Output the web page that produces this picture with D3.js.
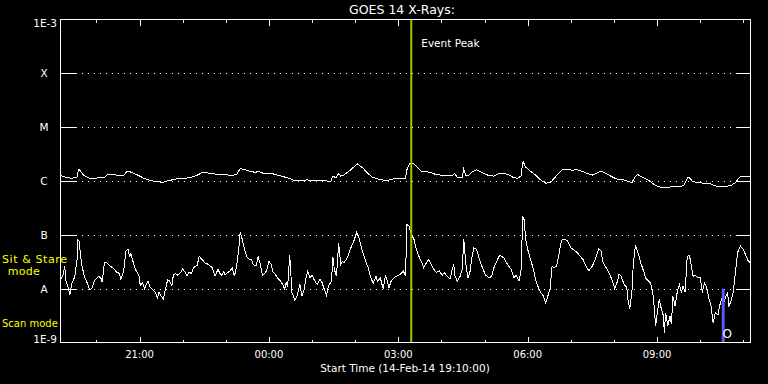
<!DOCTYPE html>
<html>
<head>
<meta charset="utf-8">
<script src="https://cdn.jsdelivr.net/npm/d3@7"></script>
<style>
  html, body { margin: 0; padding: 0; background: #000; }
  svg { display: block; }
  text { font-family: "DejaVu Sans", sans-serif; fill: #fff; }
</style>
</head>
<body>
<div id="chart"></div>
<script>
// GOES 14 x-ray flux, two channels; time = minutes after start, value = log10(W/m^2)
const startTime = new Date(2014, 1, 14, 19, 10, 0);
const spanMinutes = 960;
const eventPeakMin = 488;
const scanStartMin = 920, scanEndMin = 924;

const yTickValues = [1e-9, 1e-8, 1e-7, 1e-6, 1e-5, 1e-4, 1e-3];
const yTickLabels = ["1E-9", "A", "B", "C", "M", "X", "1E-3"];

const longChannel = [
  [0,-5.90],[7,-5.93],[16,-5.95],[23,-5.93],[25,-5.78],[27,-5.80],[32,-5.89],[39,-5.94],[44,-5.96],[53,-5.94],
  [62,-5.93],[65,-5.88],[71,-5.88],[78,-5.89],[83,-5.90],[88,-5.90],[92,-5.83],[97,-5.83],[102,-5.86],[109,-5.90],
  [116,-5.95],[122,-5.98],[129,-6.00],[136,-6.01],[142,-6.03],[148,-6.00],[155,-5.98],[162,-5.96],[171,-5.95],[180,-5.94],
  [187,-5.91],[192,-5.88],[197,-5.84],[204,-5.85],[211,-5.86],[218,-5.88],[225,-5.88],[234,-5.89],[241,-5.89],[245,-5.88],
  [250,-5.77],[257,-5.79],[264,-5.82],[271,-5.84],[276,-5.82],[280,-5.85],[287,-5.86],[294,-5.86],[301,-5.89],[308,-5.91],
  [315,-5.94],[320,-5.96],[325,-5.99],[334,-5.99],[343,-5.98],[353,-5.99],[362,-5.99],[371,-6.00],[376,-6.01],[379,-5.91],
  [383,-5.94],[387,-5.86],[390,-5.91],[394,-5.89],[404,-5.79],[413,-5.68],[420,-5.75],[427,-5.85],[434,-5.93],[441,-5.96],
  [448,-5.98],[455,-5.99],[464,-5.96],[473,-5.96],[480,-5.95],[482,-5.79],[486,-5.67],[491,-5.67],[496,-5.74],[503,-5.83],
  [510,-5.83],[517,-5.85],[522,-5.88],[529,-5.89],[538,-5.89],[546,-5.89],[548,-5.86],[552,-5.93],[559,-5.93],[561,-5.78],
  [564,-5.89],[568,-5.89],[573,-5.83],[579,-5.79],[584,-5.83],[589,-5.86],[596,-5.90],[603,-5.91],[610,-5.86],[617,-5.86],
  [624,-5.89],[631,-5.94],[636,-5.95],[641,-5.90],[643,-5.66],[644,-5.65],[647,-5.74],[654,-5.82],[661,-5.89],[668,-5.98],
  [675,-6.04],[682,-6.03],[686,-5.96],[691,-5.89],[698,-5.79],[705,-5.78],[712,-5.80],[719,-5.79],[726,-5.82],[733,-5.86],
  [740,-5.89],[747,-5.85],[751,-5.82],[756,-5.84],[763,-5.89],[770,-5.94],[777,-5.98],[784,-5.98],[791,-6.01],[795,-6.03],
  [800,-5.91],[803,-5.88],[807,-5.91],[814,-5.96],[821,-6.01],[826,-6.07],[833,-6.11],[839,-6.12],[849,-6.11],[858,-6.10],
  [867,-6.09],[872,-5.95],[874,-5.93],[879,-6.00],[886,-6.03],[895,-6.04],[902,-6.04],[907,-6.07],[914,-6.10],[923,-6.10],
  [932,-6.09],[939,-6.03],[946,-5.91],[953,-5.91],[960,-5.91]
];

const shortChannel = [
  [0,-7.83],[3,-7.77],[6,-7.59],[7,-7.83],[10,-7.95],[13,-8.11],[16,-7.89],[18,-7.84],[20,-7.77],[23,-7.46],
  [24,-7.09],[26,-7.12],[28,-7.40],[30,-7.58],[33,-7.77],[37,-7.89],[41,-8.03],[44,-7.98],[47,-7.86],[51,-7.80],
  [53,-7.77],[57,-7.82],[58,-7.88],[61,-7.52],[64,-7.52],[69,-7.58],[74,-7.63],[78,-7.69],[82,-7.72],[84,-7.82],
  [88,-7.67],[91,-7.30],[94,-7.27],[96,-7.40],[98,-7.35],[102,-7.55],[105,-7.66],[109,-7.75],[111,-7.94],[114,-7.89],
  [117,-8.00],[119,-7.93],[122,-7.86],[125,-7.98],[128,-8.01],[132,-8.07],[135,-8.17],[137,-8.07],[140,-8.14],[143,-8.19],
  [146,-8.01],[149,-7.84],[152,-7.86],[155,-7.94],[157,-7.75],[160,-7.72],[163,-7.75],[167,-7.70],[170,-7.63],[173,-7.69],
  [176,-7.77],[179,-7.69],[182,-7.72],[185,-7.61],[187,-7.59],[190,-7.57],[193,-7.40],[197,-7.46],[201,-7.52],[206,-7.55],
  [211,-7.61],[215,-7.77],[219,-7.64],[222,-7.72],[224,-7.75],[227,-7.69],[229,-7.74],[233,-7.70],[236,-7.67],[239,-7.61],
  [242,-7.77],[245,-7.58],[248,-7.27],[250,-6.95],[253,-7.09],[256,-7.27],[259,-7.40],[262,-7.45],[266,-7.46],[268,-7.55],
  [272,-7.58],[275,-7.41],[278,-7.55],[281,-7.75],[284,-7.72],[287,-7.66],[290,-7.49],[293,-7.55],[296,-7.70],[299,-7.74],
  [302,-7.80],[306,-7.86],[309,-7.92],[312,-8.01],[314,-7.89],[316,-7.96],[319,-7.38],[320,-7.61],[322,-8.07],[326,-8.21],
  [329,-8.14],[333,-7.92],[336,-8.14],[339,-8.01],[342,-7.77],[344,-7.67],[347,-7.80],[350,-7.75],[353,-7.84],[357,-7.92],
  [361,-7.83],[364,-7.89],[367,-8.01],[370,-8.12],[373,-7.95],[377,-7.86],[379,-7.41],[381,-7.64],[384,-7.77],[387,-7.16],
  [390,-7.55],[392,-7.49],[394,-7.52],[399,-7.43],[403,-7.27],[408,-7.12],[412,-6.96],[415,-7.04],[418,-7.21],[423,-7.43],
  [428,-7.61],[431,-7.77],[435,-7.90],[439,-7.77],[441,-7.86],[445,-7.80],[449,-8.01],[452,-7.77],[454,-7.82],[457,-7.98],
  [460,-7.86],[464,-7.80],[467,-7.77],[471,-7.75],[474,-7.72],[477,-7.67],[480,-7.77],[482,-6.81],[485,-6.84],[488,-6.99],
  [492,-7.09],[495,-7.27],[499,-7.41],[503,-7.52],[505,-7.61],[509,-7.52],[512,-7.46],[516,-7.55],[519,-7.63],[523,-7.70],
  [527,-7.67],[531,-7.75],[534,-7.70],[538,-7.77],[542,-7.82],[545,-7.64],[547,-7.55],[549,-7.77],[552,-7.86],[556,-7.77],
  [559,-7.64],[561,-7.07],[564,-7.55],[567,-7.80],[570,-7.67],[572,-7.45],[575,-7.24],[579,-7.27],[583,-7.46],[587,-7.61],
  [591,-7.74],[596,-7.80],[600,-7.77],[603,-7.61],[608,-7.46],[611,-7.38],[617,-7.43],[622,-7.55],[627,-7.64],[631,-7.80],
  [634,-7.75],[638,-7.86],[641,-7.64],[643,-6.66],[645,-6.72],[647,-7.06],[650,-7.27],[654,-7.46],[658,-7.64],[661,-7.83],
  [664,-7.95],[668,-8.07],[672,-8.14],[675,-8.27],[678,-8.14],[681,-8.01],[684,-7.58],[686,-7.61],[690,-7.59],[693,-7.40],
  [697,-7.10],[700,-7.09],[705,-7.10],[710,-7.24],[714,-7.28],[719,-7.33],[723,-7.40],[727,-7.46],[730,-7.55],[735,-7.67],
  [740,-7.58],[744,-7.46],[749,-7.26],[752,-7.30],[755,-7.52],[760,-7.63],[763,-7.70],[768,-7.86],[771,-8.00],[775,-7.86],
  [777,-7.73],[780,-7.77],[784,-7.92],[788,-7.98],[789,-8.17],[792,-8.37],[795,-8.07],[797,-7.52],[800,-7.20],[802,-7.27],
  [805,-7.40],[808,-7.55],[812,-7.70],[814,-7.80],[818,-7.86],[821,-7.89],[825,-8.17],[828,-8.69],[830,-8.48],[833,-8.20],
  [836,-8.38],[839,-8.51],[840,-8.82],[842,-8.45],[845,-8.69],[848,-8.51],[850,-8.66],[852,-8.14],[855,-8.32],[858,-8.07],
  [861,-7.92],[864,-8.07],[866,-7.95],[869,-8.07],[872,-7.40],[875,-7.38],[877,-7.52],[880,-7.77],[883,-7.75],[887,-7.80],
  [890,-7.80],[893,-8.07],[896,-7.89],[899,-7.98],[902,-8.17],[905,-8.32],[908,-8.63],[911,-8.45],[915,-8.48],[917,-8.32],
  [921,-8.14],[923,-8.26],[925,-8.17],[928,-8.07],[930,-8.32],[933,-8.23],[936,-8.07],[939,-7.70],[942,-7.33],[946,-7.21],
  [950,-7.27],[954,-7.40],[957,-7.49],[960,-7.52]
];

const W = 768, H = 384;
const pLeft = 60.5, pRight = 750.5, pTop = 19.5, pBottom = 342.5;

const svg = d3.select("#chart").append("svg")
    .attr("width", W)
    .attr("height", H)
    .style("background", "#000");

const toDate = m => new Date(startTime.getTime() + m * 60000);

const x = d3.scaleTime()
    .domain([startTime, toDate(spanMinutes)])
    .range([pLeft, pRight]);

const y = d3.scaleLog()
    .domain([1e-9, 1e-3])
    .range([pBottom, pTop]);

// -----------------------------
// grid + y ticks
// -----------------------------
const inner = yTickValues.slice(1, -1);
const snap = v => Math.round(v) + 0.5;

svg.selectAll(".grid")
    .data(inner)
    .enter()
    .append("line")
    .attr("x1", pLeft + 15.5).attr("x2", pRight - 14)
    .attr("y1", d => snap(y(d))).attr("y2", d => snap(y(d)))
    .attr("stroke", "#fff")
    .attr("stroke-dasharray", "1 5")
    .attr("shape-rendering", "crispEdges");

svg.selectAll(".ytickL")
    .data(inner)
    .enter()
    .append("line")
    .attr("x1", pLeft).attr("x2", pLeft + 15)
    .attr("y1", d => snap(y(d))).attr("y2", d => snap(y(d)))
    .attr("stroke", "#fff")
    .attr("shape-rendering", "crispEdges");

svg.selectAll(".ytickR")
    .data(inner)
    .enter()
    .append("line")
    .attr("x1", pRight - 14).attr("x2", pRight)
    .attr("y1", d => snap(y(d))).attr("y2", d => snap(y(d)))
    .attr("stroke", "#fff")
    .attr("shape-rendering", "crispEdges");

svg.selectAll(".ylab")
    .data(yTickValues)
    .enter()
    .append("text")
    .attr("font-size", 10.5)
    .attr("text-anchor", (d, i) => (i === 0 || i === yTickValues.length - 1) ? "end" : "middle")
    .attr("x", (d, i) => (i === 0 || i === yTickValues.length - 1) ? 57 : 44)
    .attr("y", (d, i) => {
        if (i === 0) return y(d);
        if (i === yTickValues.length - 1) return y(d) + 7.5;
        return y(d) + 4;
    })
    .text((d, i) => yTickLabels[i]);

// -----------------------------
// x ticks (hourly, major every 3h)
// -----------------------------
const hours = x.ticks(d3.timeHour.every(1));
const isMajor = d => d.getHours() % 3 === 0;
const fmt = d3.timeFormat("%H:%M");

svg.selectAll(".xtickT")
    .data(hours)
    .enter()
    .append("line")
    .attr("x1", d => snap(x(d))).attr("x2", d => snap(x(d)))
    .attr("y1", pTop).attr("y2", d => pTop + (isMajor(d) ? 6 : 3))
    .attr("stroke", "#fff")
    .attr("shape-rendering", "crispEdges");

svg.selectAll(".xtickB")
    .data(hours)
    .enter()
    .append("line")
    .attr("x1", d => snap(x(d))).attr("x2", d => snap(x(d)))
    .attr("y1", pBottom).attr("y2", d => pBottom - (isMajor(d) ? 6 : 3))
    .attr("stroke", "#fff")
    .attr("shape-rendering", "crispEdges");

svg.selectAll(".xlab")
    .data(hours.filter(isMajor))
    .enter()
    .append("text")
    .attr("font-size", 10)
    .attr("text-anchor", "middle")
    .attr("x", d => x(d))
    .attr("y", 358)
    .text(fmt);

svg.append("text")
    .attr("font-size", 10.5)
    .attr("text-anchor", "middle")
    .attr("x", 405)
    .attr("y", 372)
    .text("Start Time (" + d3.timeFormat("%d-%b-%y %H:%M:%S")(startTime) + ")");

// -----------------------------
// flux curves
// -----------------------------
const line = d3.line()
    .x(d => x(toDate(d[0])))
    .y(d => y(Math.pow(10, d[1])));

[longChannel, shortChannel].forEach(series => {
    svg.append("path")
        .attr("d", line(series))
        .attr("fill", "none")
        .attr("stroke", "#fff")
        .attr("stroke-width", 1)
        .attr("shape-rendering", "crispEdges");
});

// event peak marker
svg.append("line")
    .attr("x1", x(toDate(eventPeakMin))).attr("x2", x(toDate(eventPeakMin)))
    .attr("y1", pTop).attr("y2", pBottom)
    .attr("stroke", "#99cc00")
    .attr("stroke-width", 2);

svg.append("text")
    .attr("font-size", 10.5)
    .attr("x", x(toDate(eventPeakMin)) + 10)
    .attr("y", 47)
    .text("Event Peak");

// scan mode bar
svg.append("rect")
    .attr("x", x(toDate(scanStartMin)))
    .attr("width", x(toDate(scanEndMin)) - x(toDate(scanStartMin)))
    .attr("y", y(1e-8))
    .attr("height", y(1e-9) - y(1e-8))
    .attr("fill", "#5a5aff");

svg.append("text")
    .attr("font-size", 12)
    .attr("text-anchor", "middle")
    .attr("x", x(toDate(scanEndMin)) + 2.5)
    .attr("y", 338)
    .text("O");

// frame
svg.append("rect")
    .attr("x", pLeft).attr("y", pTop)
    .attr("width", pRight - pLeft).attr("height", pBottom - pTop)
    .attr("fill", "none")
    .attr("stroke", "#fff")
    .attr("shape-rendering", "crispEdges");

// title + mode labels
svg.append("text")
    .attr("font-size", 12.5)
    .attr("text-anchor", "middle")
    .attr("x", 402)
    .attr("y", 14)
    .text("GOES 14 X-Rays:");

const modeLabels = [
    { text: "Sit & Stare", x: 2, y: 263, anchor: "start", size: 11, spacing: 0.6 },
    { text: "mode", x: 24, y: 275, anchor: "middle", size: 11, spacing: 0.3 },
    { text: "Scan mode", x: 2, y: 327, anchor: "start", size: 10, spacing: 0 }
];

svg.selectAll(".mode")
    .data(modeLabels)
    .enter()
    .append("text")
    .attr("font-size", d => d.size)
    .attr("letter-spacing", d => d.spacing)
    .attr("text-anchor", d => d.anchor)
    .attr("x", d => d.x)
    .attr("y", d => d.y)
    .style("fill", "#ffff00")
    .text(d => d.text);
</script>
</body>
</html>
